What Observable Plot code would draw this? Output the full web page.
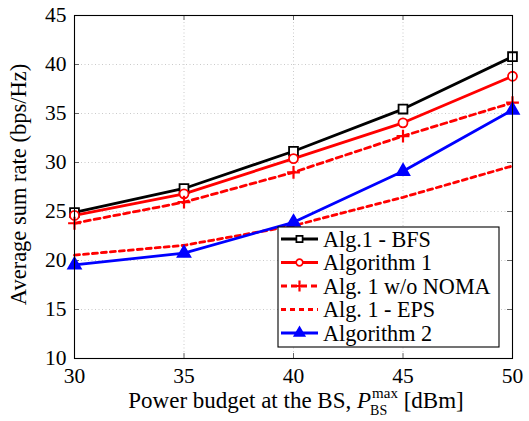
<!DOCTYPE html>
<html><head><meta charset="utf-8">
<script src="https://cdn.jsdelivr.net/npm/d3@7"></script>
<script src="https://cdn.jsdelivr.net/npm/@observablehq/plot@0.6"></script>
<style>html,body{margin:0;padding:0;background:#fff} svg{display:block}
svg text{font-family:"Liberation Serif","DejaVu Serif",serif !important;}
</style>
</head><body><div id="chart"></div>
<script>
// ---- data ----
const power = [30, 35, 40, 45, 50];
const xTicks = [30, 35, 40, 45, 50];
const yTicks = [10, 15, 20, 25, 30, 35, 40, 45];
const seriesNames = ["Alg.1 - BFS", "Algorithm 1", "Alg. 1 w/o NOMA", "Alg. 1 - EPS", "Algorithm 2"];
const bfs    = [24.9, 27.35, 31.15, 35.45, 40.8];
const alg1   = [24.6, 26.8, 30.4, 34.05, 38.8];
const noNoma = [23.8, 25.95, 29.0, 32.7, 36.1];
const eps    = [20.55, 21.55, 23.55, 26.45, 29.65];
const alg2   = [19.55, 20.75, 23.9, 29.1, 35.35];
const xLabelMain = "Power budget at the BS, ";
const xLabelP = "P";
const xLabelSup = "max";
const xLabelSub = "BS";
const xLabelUnit = " [dBm]";
const yLabel = "Average sum rate (bps/Hz)";

// ---- styling ----
const FONT = "Liberation Serif";
const W = 529, H = 421;
const M = {top: 15, right: 17, bottom: 63, left: 74};
const styles = [
  {stroke: "#000000", dash: null,  symbol: "square",   fill: "#ffffff", r: 5.0, lr: 3.5},
  {stroke: "#ff0000", dash: null,  symbol: "circle",   fill: "#ffffff", r: 4.5, lr: 3.3},
  {stroke: "#ff0000", dash: "6,4", symbol: "plus",     fill: "none",    r: 4.2, lr: 3.7},
  {stroke: "#ff0000", dash: "5,4", symbol: null,       fill: "none",    r: 0,   lr: 0},
  {stroke: "#0000ff", dash: null,  symbol: "triangle", fill: "#0000ff", r: 4.7, lr: 3.8}
];
const allValues = [bfs, alg1, noNoma, eps, alg2];
const rows = allValues.flatMap((vals, i) => vals.map((v, j) => ({series: seriesNames[i], i, x: power[j], y: v})));

const innerH = H - M.top - M.bottom;
const innerW = W - M.left - M.right;
const tickLen = 5;

const marks = [
  Plot.gridX(xTicks, {stroke: "#bdbdbd", strokeOpacity: 1, strokeWidth: 0.8, strokeDasharray: "1,2.5"}),
  Plot.gridY(yTicks, {stroke: "#bdbdbd", strokeOpacity: 1, strokeWidth: 0.8, strokeDasharray: "1,2.5"}),
  // inward ticks on all four sides
  Plot.ruleX(xTicks, {x: d => d, insetTop: innerH - tickLen, stroke: "#555", strokeWidth: 0.9}),
  Plot.ruleX(xTicks, {x: d => d, insetBottom: innerH - tickLen, stroke: "#555", strokeWidth: 0.9}),
  Plot.ruleY(yTicks, {y: d => d, insetRight: innerW - tickLen, stroke: "#555", strokeWidth: 0.9}),
  Plot.ruleY(yTicks, {y: d => d, insetLeft: innerW - tickLen, stroke: "#555", strokeWidth: 0.9})
];
styles.forEach((s, i) => {
  const d = rows.filter(r => r.i === i);
  marks.push(Plot.line(d, {x: "x", y: "y", stroke: s.stroke, strokeWidth: 2.8, strokeDasharray: s.dash || undefined}));
});
styles.forEach((s, i) => {
  if (!s.symbol) return;
  const d = rows.filter(r => r.i === i);
  marks.push(Plot.dot(d, {x: "x", y: "y", symbol: () => s.symbol, r: s.r, stroke: s.stroke, fill: s.fill, strokeWidth: s.symbol === "plus" ? 2.2 : 1.8}));
});
marks.push(Plot.frame({stroke: "#000", strokeWidth: 1.1}));
marks.push(Plot.axisX(xTicks, {tickSize: 0, tickPadding: 9, label: null, fontSize: 21.5}));
marks.push(Plot.axisY(yTicks, {tickSize: 0, tickPadding: 8, label: null, fontSize: 21.5}));

const chart = Plot.plot({
  width: W, height: H,
  marginTop: M.top, marginRight: M.right, marginBottom: M.bottom, marginLeft: M.left,
  x: {domain: [30, 50]},
  y: {domain: [10, 45]},
  symbol: {type: "identity"},
  style: {fontFamily: FONT, fontSize: "21.5px", background: "#fff", color: "#000", overflow: "visible"},
  marks
});
document.getElementById("chart").appendChild(chart);

const svg = d3.select(chart);

// ---- axis titles ----
svg.append("text")
  .attr("transform", `translate(26,${M.top + innerH / 2 - 2}) rotate(-90)`)
  .attr("text-anchor", "middle")
  .style("font-size", "22.5px").attr("fill", "#000")
  .text(yLabel);

const xl = svg.append("g").attr("fill", "#000").attr("text-anchor", "start");
const baseY = 408;
const t1 = xl.append("text").attr("text-anchor", "start").attr("x", 0).attr("y", baseY).style("font-size", "23px").text(xLabelMain);
let cx = t1.node().getComputedTextLength();
const tP = xl.append("text").attr("text-anchor", "start").attr("x", cx).attr("y", baseY).style("font-size", "23px").style("font-style", "italic").text(xLabelP);
cx += tP.node().getComputedTextLength() + 1;
const tSup = xl.append("text").attr("text-anchor", "start").attr("x", cx).attr("y", baseY - 10).style("font-size", "15px").text(xLabelSup);
const tSub = xl.append("text").attr("text-anchor", "start").attr("x", cx - 2).attr("y", baseY + 7).style("font-size", "14px").text(xLabelSub);
cx += Math.max(tSup.node().getComputedTextLength(), tSub.node().getComputedTextLength() - 2);
const tU = xl.append("text").attr("text-anchor", "start").attr("x", cx).attr("y", baseY).style("font-size", "23px").text(xLabelUnit);
cx += tU.node().getComputedTextLength();
xl.attr("transform", `translate(${M.left + innerW / 2 - cx / 2 + 3},0)`);

// ---- legend ----
const lgW = 221, lgH = 120;
const lgX = W - M.right - 13 - lgW;
const lgY = H - M.bottom - 11 - lgH;
const lg = svg.append("g").attr("transform", `translate(${lgX},${lgY})`);
lg.append("rect").attr("width", lgW).attr("height", lgH).attr("fill", "#fff").attr("stroke", "#000").attr("stroke-width", 1.1);
const symMap = {square: d3.symbolSquare, circle: d3.symbolCircle, plus: d3.symbolPlus, triangle: d3.symbolTriangle};
seriesNames.forEach((name, i) => {
  const s = styles[i];
  const ry = 12 + i * 23.5;
  lg.append("line").attr("x1", 3).attr("x2", 40).attr("y1", ry).attr("y2", ry)
    .attr("stroke", s.stroke).attr("stroke-width", 2.8).attr("stroke-dasharray", s.dash);
  if (s.symbol) {
    lg.append("path").attr("transform", `translate(21.5,${ry})`)
      .attr("d", d3.symbol(symMap[s.symbol], Math.PI * s.lr * s.lr)())
      .attr("stroke", s.stroke).attr("fill", s.fill).attr("stroke-width", s.symbol === "plus" ? 2.2 : 1.7);
  }
  lg.append("text").attr("text-anchor", "start").attr("x", 45).attr("y", ry + 7.5)
    .style("font-size", "22.2px").attr("fill", "#000").text(name);
});
</script>
</body></html>
